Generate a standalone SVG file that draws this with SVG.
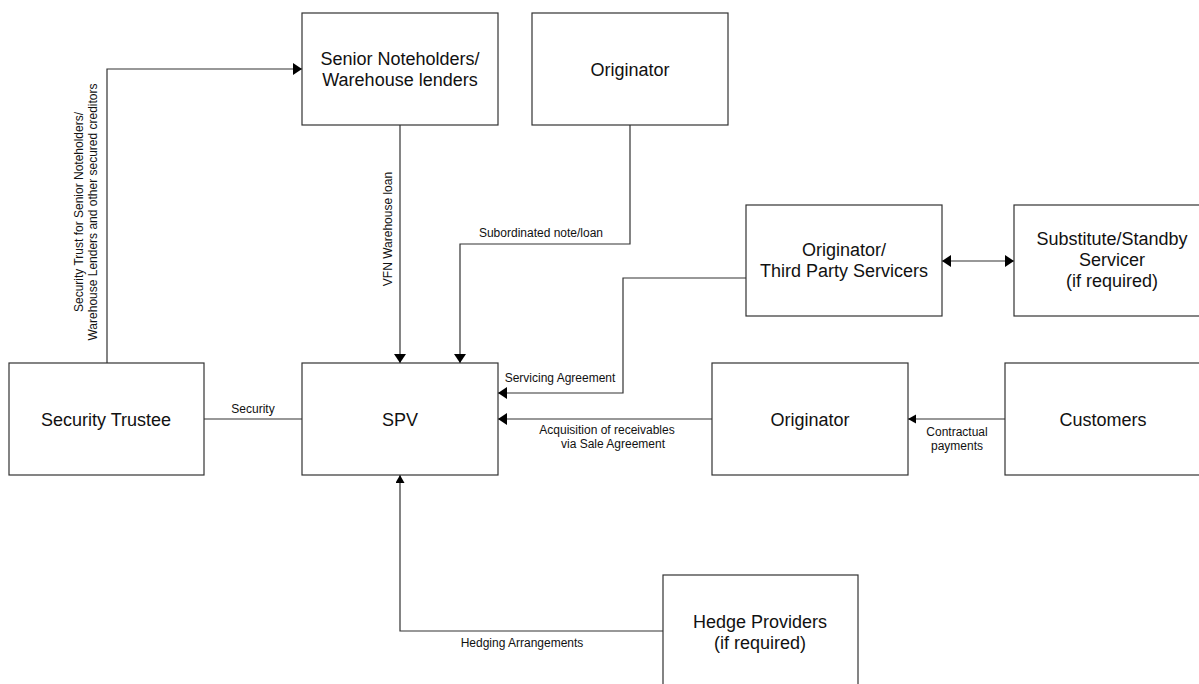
<svg xmlns="http://www.w3.org/2000/svg" width="1199" height="684" viewBox="0 0 1199 684">
<style>
.box{fill:#fff;stroke:#333;stroke-width:1.2}
.bt{font-family:"Liberation Sans",Arial,sans-serif;font-size:18px;fill:#111;text-anchor:middle}
.lb{font-family:"Liberation Sans",Arial,sans-serif;font-size:12px;fill:#111;text-anchor:middle}
.cn{fill:none;stroke:#333;stroke-width:1.2}
</style>
<defs>
<marker id="ab" markerUnits="userSpaceOnUse" markerWidth="10" markerHeight="12" refX="9" refY="6" orient="auto-start-reverse" viewBox="0 0 10 12"><path d="M0,0 L9,6 L0,12 z" fill="#000"/></marker>
<marker id="as" markerUnits="userSpaceOnUse" markerWidth="9" markerHeight="10" refX="8" refY="4.5" orient="auto" viewBox="0 0 9 10"><path d="M0,0 L8,4.5 L0,9 z" fill="#000"/></marker>
</defs>
<rect width="1199" height="684" fill="#fff"/>
<g id="connectors">
<path class="cn" d="M107,363 V69 H302" marker-end="url(#ab)"/>
<path class="cn" d="M400,125 V363" marker-end="url(#ab)"/>
<path class="cn" d="M630,125 V244 H460 V363" marker-end="url(#ab)"/>
<path class="cn" d="M746,278 H623 V393 H498" marker-end="url(#ab)"/>
<path class="cn" d="M942,261 H1014" marker-start="url(#ab)" marker-end="url(#ab)"/>
<path class="cn" d="M712,419 H498" marker-end="url(#ab)"/>
<path class="cn" d="M1005,419 H908" marker-end="url(#as)"/>
<path class="cn" d="M204,419 H302"/>
<path class="cn" d="M663,631 H400 V475" marker-end="url(#as)"/>
<text class="lb" transform="translate(83,212) rotate(-90)">Security Trust for Senior Noteholders/</text>
<text class="lb" transform="translate(97,212) rotate(-90)">Warehouse Lenders and other secured creditors</text>
<text class="lb" transform="translate(392,229) rotate(-90)">VFN Warehouse loan</text>
<text class="lb" x="541" y="237">Subordinated note/loan</text>
<text class="lb" x="560" y="382">Servicing Agreement</text>
<text class="lb" x="253" y="413">Security</text>
<text class="lb" x="607" y="434">Acquisition of receivables</text>
<text class="lb" x="613" y="448">via Sale Agreement</text>
<text class="lb" x="957" y="436">Contractual</text>
<text class="lb" x="957" y="450">payments</text>
<text class="lb" x="522" y="647">Hedging Arrangements</text>
</g>
<g id="senior"><rect class="box" x="302" y="13" width="196" height="112"/><text class="bt" x="400" y="65">Senior Noteholders/</text><text class="bt" x="400" y="86">Warehouse lenders</text></g>
<g id="originator-top"><rect class="box" x="532" y="13" width="196" height="112"/><text class="bt" x="630" y="76">Originator</text></g>
<g id="servicers"><rect class="box" x="746" y="205" width="196" height="111"/><text class="bt" x="844" y="256">Originator/</text><text class="bt" x="844" y="277">Third Party Servicers</text></g>
<g id="substitute"><rect class="box" x="1014" y="205" width="196" height="111"/><text class="bt" x="1112" y="245">Substitute/Standby</text><text class="bt" x="1112" y="266">Servicer</text><text class="bt" x="1112" y="287">(if required)</text></g>
<g id="trustee"><rect class="box" x="9" y="363" width="195" height="112"/><text class="bt" x="106" y="426">Security Trustee</text></g>
<g id="spv"><rect class="box" x="302" y="363" width="196" height="112"/><text class="bt" x="400" y="426">SPV</text></g>
<g id="originator-mid"><rect class="box" x="712" y="363" width="196" height="112"/><text class="bt" x="810" y="426">Originator</text></g>
<g id="customers"><rect class="box" x="1005" y="363" width="196" height="112"/><text class="bt" x="1103" y="426">Customers</text></g>
<g id="hedge"><rect class="box" x="663" y="575" width="195" height="112"/><text class="bt" x="760" y="628">Hedge Providers</text><text class="bt" x="760" y="649">(if required)</text></g>
</svg>
